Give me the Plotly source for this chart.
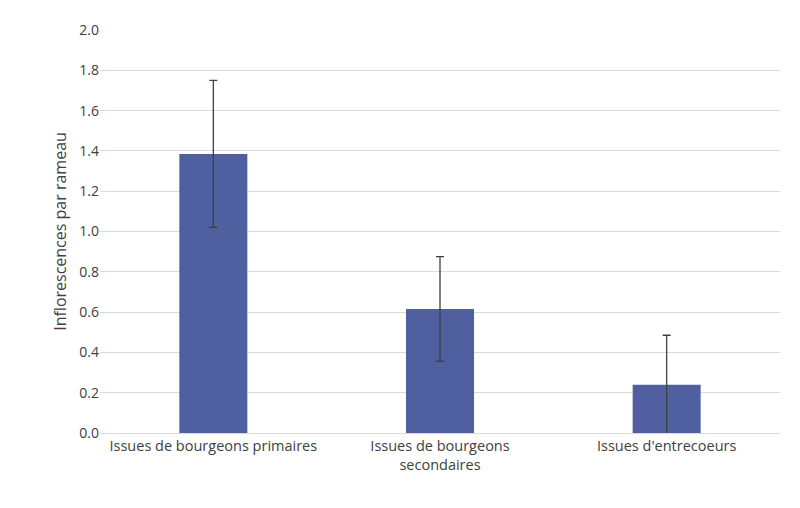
import plotly.graph_objects as go

categories = ["Issues de bourgeons primaires", "Issues de bourgeons<br>secondaires", "Issues d'entrecoeurs"]
values = [1.385, 0.615, 0.24]
errors = [0.365, 0.26, 0.245]

fig = go.Figure(go.Bar(
    x=categories, y=values, width=0.3,
    marker=dict(color="#4F5F9F", line=dict(width=0)),
    error_y=dict(type="data", array=errors, color="#404040", thickness=1.3, width=4),
))
fig.update_layout(
    width=800, height=508, plot_bgcolor="white", paper_bgcolor="white",
    margin=dict(l=92, r=28, t=19, b=83),
    font=dict(family="Open Sans", size=14, color="#404040"),
    showlegend=False,
    xaxis=dict(showline=True, linecolor="#D9D9D9", tickfont=dict(size=14.5)),
    yaxis=dict(range=[0, 2.0], dtick=0.2, tickformat=".1f", gridcolor="#D9D9D9",
               zeroline=False, title=dict(text="Inflorescences par rameau", font=dict(size=16), standoff=8)),
)
fig.write_html("out.html")
